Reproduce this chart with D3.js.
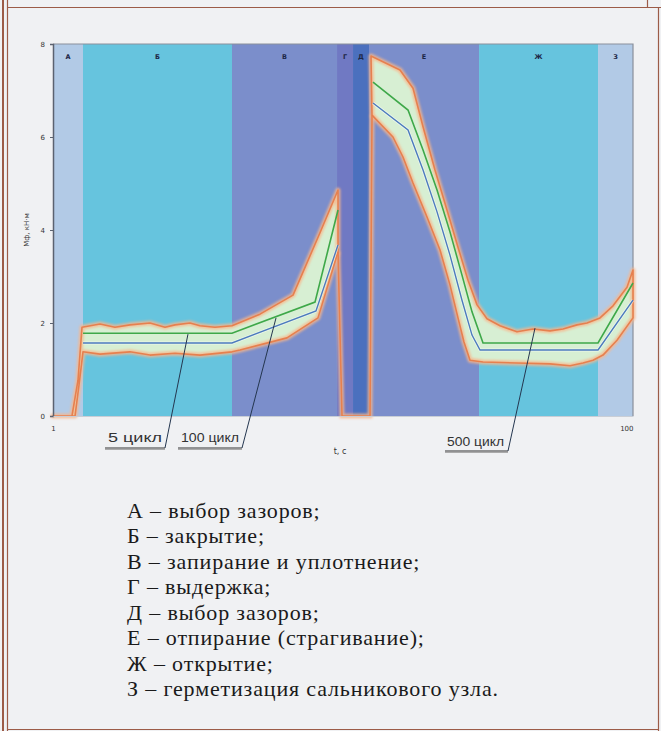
<!DOCTYPE html>
<html><head><meta charset="utf-8">
<script src="https://cdn.jsdelivr.net/npm/d3@7/dist/d3.min.js"></script>
<style>html,body{margin:0;padding:0;background:#f0f1f3;}svg{display:block}</style>
</head><body><svg id="c" width="661" height="731"></svg>
<script>
// ---------- data ----------
const phases      = ["А","Б","В","Г","Д","Е","Ж","З"];
const phaseStart  = [1, 6.12, 31.55, 49.48, 52.21, 54.94, 73.72, 94.03];
const phaseEnd    = [6.12, 31.55, 49.48, 52.21, 54.94, 73.72, 94.03, 100];
const phaseColors = ["#b2cae6","#66c4de","#7b8ecb","#7079c3","#4b70be","#7b8ecb","#66c4de","#b2cae6"];
const yTicks = [0,2,4,6,8];
const xTicks = [1,100];

const upperLeft = [[1,0],[4.24,0],[5.27,0.77],[5.95,1.91],[9.02,1.98],[11.58,1.91],[14.14,1.96],[17.56,2.0],[20.12,1.91],[21.82,1.96],[24.38,2.0],[26.09,1.94],[28.65,1.91],[31.55,1.94],[36.33,2.19],[41.97,2.6],[46.57,3.94],[49.65,4.86]];
const lowerLeft = [[4.76,0],[5.44,0.67],[6.12,1.38],[9.02,1.33],[14.14,1.38],[17.56,1.31],[21.82,1.35],[26.09,1.31],[31.55,1.38],[32.92,1.42],[40.94,1.68],[46.23,2.11],[49.65,3.53]];
const greenLeft = [[6.12,1.78],[31.55,1.78],[45.72,2.45],[49.65,4.43]];
const blueLeft  = [[6.12,1.57],[31.55,1.57],[45.89,2.26],[49.65,3.68]];
const gapLine   = [[49.65,3.53],[50.33,0],[55.11,0],[55.45,6.47]];
const upperRight = [[55.28,7.74],[60.23,7.44],[62.45,7.05],[64.16,6.22],[66.2,5.29],[68.25,4.43],[70.13,3.63],[71.84,2.92],[73.38,2.39],[75.08,2.09],[77.3,1.94],[80.2,1.81],[82.93,1.87],[85.83,1.83],[88.05,1.87],[90.44,1.96],[92.15,2.0],[94.37,2.11],[96.59,2.37],[98.98,2.77],[100,3.14]];
const lowerRight = [[55.45,6.47],[59.03,6.0],[60.74,5.57],[62.45,5.01],[64.84,4.28],[67.06,3.57],[68.76,2.82],[70.13,2.11],[71.15,1.59],[72.18,1.2],[74.4,1.16],[80.2,1.14],[85.83,1.12],[89.25,1.08],[91.46,1.14],[93.17,1.2],[94.88,1.31],[97.27,1.63],[100,2.11]];
const greenRight = [[55.62,7.18],[61.6,6.58],[64.16,5.72],[66.55,4.86],[68.76,3.96],[70.81,3.03],[72.52,2.24],[74.4,1.57],[94.03,1.57],[100,2.86]];
const blueRight  = [[55.62,6.73],[61.6,6.15],[64.16,5.29],[66.55,4.39],[68.76,3.46],[70.81,2.49],[72.52,1.74],[73.89,1.42],[94.03,1.42],[100,2.49]];

const cycleLabels  = ["5 цикл","100 цикл","500 цикл"];
const cycleTargets = [[24.04,1.76],[39.07,2.11],[83.27,1.89]];

const legendItems = ["А – выбор зазоров;","Б – закрытие;","В – запирание и уплотнение;","Г – выдержка;","Д – выбор зазоров;","Е – отпирание (страгивание);","Ж – открытие;","З – герметизация сальникового узла."];

// ---------- drawing ----------
const svg = d3.select("#c");
svg.append("rect").attr("width",661).attr("height",731).attr("fill","#f0f1f3");
const defs = svg.append("defs");
defs.append("filter").attr("id","glow").attr("x","-10%").attr("y","-10%").attr("width","120%").attr("height","120%")
  .append("feGaussianBlur").attr("stdDeviation",1.3);

// frame
const brown = "#9c5b47";
svg.append("line").attr("x1",3).attr("x2",3).attr("y1",0).attr("y2",731).attr("stroke",brown).attr("stroke-width",2);
svg.append("line").attr("x1",7.5).attr("x2",7.5).attr("y1",0).attr("y2",731).attr("stroke",brown).attr("stroke-width",1.2);
svg.append("line").attr("x1",7.5).attr("x2",661).attr("y1",7.5).attr("y2",7.5).attr("stroke",brown).attr("stroke-width",1.2);
svg.append("line").attr("x1",647.5).attr("x2",647.5).attr("y1",0).attr("y2",7.5).attr("stroke",brown).attr("stroke-width",1.2);
svg.append("line").attr("x1",658.5).attr("x2",658.5).attr("y1",7.5).attr("y2",731).attr("stroke",brown).attr("stroke-width",1.2);
svg.append("line").attr("x1",7.5).attr("x2",658.5).attr("y1",729.5).attr("y2",729.5).attr("stroke",brown).attr("stroke-width",1.2);

const x = d3.scaleLinear().domain([1,100]).range([53,633]);
const y = d3.scaleLinear().domain([0,8]).range([416,44]);

// phase bands
const bands = svg.append("g");
phases.forEach((p,i)=>{
  bands.append("rect").attr("x",x(phaseStart[i])).attr("y",y(8))
    .attr("width",x(phaseEnd[i])-x(phaseStart[i])).attr("height",y(0)-y(8)).attr("fill",phaseColors[i]);
  bands.append("text").attr("x",(x(phaseStart[i])+x(phaseEnd[i]))/2).attr("y",59)
    .attr("text-anchor","middle").attr("font-family","DejaVu Sans").attr("font-size",6.5).attr("font-weight","bold")
    .attr("fill","#1d2747").text(p);
});
// plot frame top/right
svg.append("path").attr("d",`M${x(1)},${y(8)}H${x(100)}V${y(0)}`).attr("fill","none").attr("stroke","#8a909c").attr("stroke-width",1.2);

const line = d3.line().x(d=>x(d[0])).y(d=>y(d[1]));
const polyL = upperLeft.concat(lowerLeft.slice().reverse());
const polyR = upperRight.concat(lowerRight.slice().reverse());
const curves = svg.append("g");
[polyL,polyR].forEach(p=>{
  curves.append("path").attr("d",line(p)+"Z").attr("fill","#d7efd3").attr("stroke","none");
});
// glow
[polyL,polyR].forEach(p=>{
  curves.append("path").attr("d",line(p)+"Z").attr("fill","none").attr("stroke","#f7b68c").attr("stroke-width",5).attr("stroke-opacity",0.8).attr("filter","url(#glow)").attr("stroke-linejoin","round");
});
curves.append("path").attr("d",line(gapLine)).attr("fill","none").attr("stroke","#f7b68c").attr("stroke-width",5).attr("stroke-opacity",0.8).attr("filter","url(#glow)");
[polyL,polyR].forEach(p=>{
  curves.append("path").attr("d",line(p)+"Z").attr("fill","none").attr("stroke","#e6804f").attr("stroke-width",1.6).attr("stroke-linejoin","round");
});
curves.append("path").attr("d",line(gapLine)).attr("fill","none").attr("stroke","#e6804f").attr("stroke-width",1.6);

[blueLeft,blueRight].forEach(s=>{
  curves.append("path").attr("d",line(s)).attr("fill","none").attr("stroke","#ffffff").attr("stroke-width",3).attr("stroke-opacity",0.5);
  curves.append("path").attr("d",line(s)).attr("fill","none").attr("stroke","#4c7bbd").attr("stroke-width",1.4);
});
[greenLeft,greenRight].forEach(s=>{
  curves.append("path").attr("d",line(s)).attr("fill","none").attr("stroke","#3ea849").attr("stroke-width",1.6);
});

// axes
const yAxis = svg.append("g").attr("transform",`translate(${x(1)},0)`)
  .call(d3.axisLeft(y).tickValues(yTicks).tickSize(3).tickPadding(5).tickFormat(d3.format("d")));
yAxis.select(".domain").attr("stroke","#5b6270").attr("stroke-width",1.5);
yAxis.selectAll("line").attr("stroke","#5b6270");
yAxis.selectAll("text").attr("font-family","DejaVu Sans").attr("font-size",7).attr("fill","#333");

const xAxis = svg.append("g").attr("transform",`translate(0,${y(0)})`)
  .call(d3.axisBottom(x).tickValues(xTicks).tickSize(0).tickPadding(10).tickFormat(d3.format("d")));
xAxis.select(".domain").attr("stroke","#c9ced6").attr("stroke-width",1);
xAxis.selectAll("text").attr("font-family","DejaVu Sans").attr("font-size",7).attr("fill","#333")
  .attr("text-anchor",(d,i)=>i===0?"middle":"end");

svg.append("text").attr("x",340).attr("y",454).attr("text-anchor","middle").attr("font-family","DejaVu Sans").attr("font-size",8).attr("fill","#333").text("t, с");
svg.append("text").attr("transform","translate(29,230) rotate(-90)").attr("text-anchor","middle").attr("font-family","DejaVu Sans").attr("font-size",7).attr("fill","#333").text("Мф, кН·м");

// cycle callouts
const labelBoxes = [{x0:105,x1:165,ly:448,tx:108,ty:442},{x0:178,x1:242,ly:448,tx:181,ty:442},{x0:445,x1:508,ly:451,tx:447,ty:446}];
cycleLabels.forEach((c,i)=>{
  const b = labelBoxes[i];
  svg.append("text").attr("x",b.tx).attr("y",b.ty).attr("font-family","Liberation Sans").attr("font-size",12)
    .attr("fill","#333").attr("textLength",b.x1-b.x0-6).attr("lengthAdjust","spacingAndGlyphs").text(c);
  svg.append("line").attr("x1",b.x0).attr("x2",b.x1).attr("y1",b.ly+1.5).attr("y2",b.ly+1.5).attr("stroke","#aaa").attr("stroke-width",1);
  svg.append("line").attr("x1",b.x0).attr("x2",b.x1).attr("y1",b.ly).attr("y2",b.ly).attr("stroke","#333").attr("stroke-width",1);
  svg.append("line").attr("x1",b.x1).attr("y1",b.ly).attr("x2",x(cycleTargets[i][0])).attr("y2",y(cycleTargets[i][1]))
    .attr("stroke","#24364f").attr("stroke-width",1);
});

// legend
const lg = svg.append("g");
legendItems.forEach((t,i)=>{
  lg.append("text").attr("x",127).attr("y",517.5+i*25.57).attr("font-family","Liberation Serif").attr("font-size",22)
    .attr("letter-spacing",0.85).attr("fill","#1a1a1a").text(t);
});
</script></body></html>
